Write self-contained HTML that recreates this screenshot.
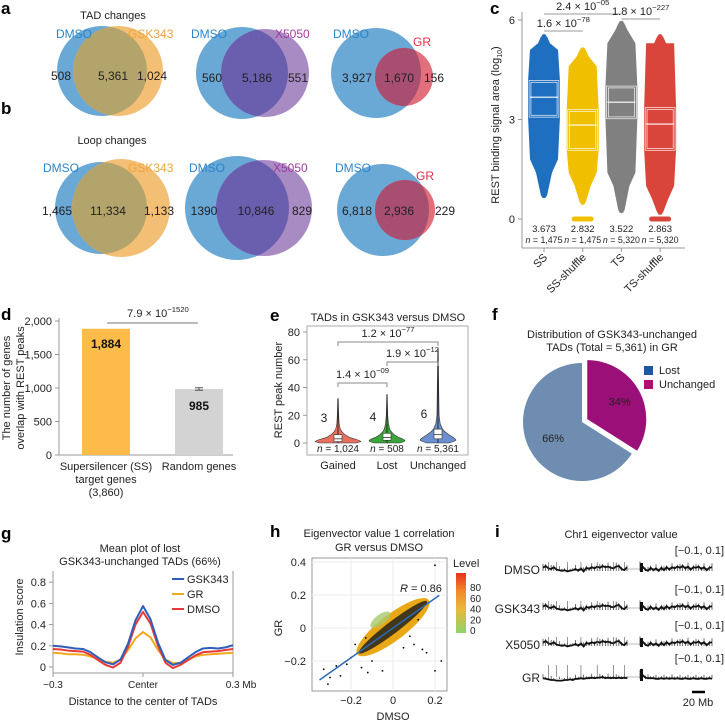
<!DOCTYPE html>
<html><head><meta charset="utf-8">
<style>
html,body{margin:0;padding:0;background:#fff;}
svg{display:block;font-family:"Liberation Sans",Arial,sans-serif;}
.t{font-size:11px;fill:#222;}
.s{font-size:10px;fill:#222;}
.v{font-size:12px;fill:#222;}
.pl{font-size:17px;font-weight:bold;fill:#000;}
</style></head>
<body>
<svg id="fig" width="725" height="723" viewBox="0 0 725 723" xmlns="http://www.w3.org/2000/svg">
<defs>
<clipPath id="ca1"><circle cx="102" cy="71" r="45"/></clipPath>
<clipPath id="ca2"><circle cx="242" cy="73" r="46"/></clipPath>
<clipPath id="ca3"><circle cx="376" cy="73" r="45"/></clipPath>
<clipPath id="cb1"><circle cx="101" cy="208" r="46"/></clipPath>
<clipPath id="cb2"><circle cx="237" cy="208" r="52"/></clipPath>
<clipPath id="cb3"><circle cx="383" cy="210" r="46"/></clipPath>
<linearGradient id="lvl" x1="0" y1="1" x2="0" y2="0"><stop offset="0" stop-color="#8fd36a"/><stop offset="0.4" stop-color="#e9b93a"/><stop offset="0.7" stop-color="#f08a2a"/><stop offset="1" stop-color="#e8321e"/></linearGradient>
</defs>

<!-- Panel a -->
<g>
<text class="pl" x="1" y="14">a</text>
<text class="t" x="113" y="19" text-anchor="middle" font-size="12">TAD changes</text>
<g>
<circle cx="102" cy="71" r="45" fill="#6aa8d6"/>
<circle cx="118" cy="71" r="45" fill="#f3bf74"/>
<circle cx="118" cy="71" r="45" fill="#b3a46c" clip-path="url(#ca1)"/>
<text class="v" x="56" y="38" style="fill:#2a85c9">DMSO</text>
<text class="v" x="128" y="38" style="fill:#f0a23a">GSK343</text>
<text class="v" x="61" y="80" text-anchor="middle">508</text>
<text class="v" x="113" y="80" text-anchor="middle">5,361</text>
<text class="v" x="152" y="80" text-anchor="middle">1,024</text>
</g>
<g>
<circle cx="242" cy="73" r="46" fill="#6aa8d6"/>
<circle cx="265" cy="73" r="44" fill="#a98bc4"/>
<circle cx="265" cy="73" r="44" fill="#6a5fae" clip-path="url(#ca2)"/>
<text class="v" x="191" y="38" style="fill:#2a85c9">DMSO</text>
<text class="v" x="275" y="38" style="fill:#a03ca0">X5050</text>
<text class="v" x="212" y="82" text-anchor="middle">560</text>
<text class="v" x="257" y="82" text-anchor="middle">5,186</text>
<text class="v" x="298" y="82" text-anchor="middle">551</text>
</g>
<g>
<circle cx="376" cy="73" r="45" fill="#6aa8d6"/>
<circle cx="404" cy="77" r="29" fill="#e2707c"/>
<circle cx="404" cy="77" r="29" fill="#a84e70" clip-path="url(#ca3)"/>
<text class="v" x="333" y="38" style="fill:#2a85c9">DMSO</text>
<text class="v" x="413" y="46" style="fill:#e0304a">GR</text>
<text class="v" x="357" y="82" text-anchor="middle">3,927</text>
<text class="v" x="399" y="82" text-anchor="middle">1,670</text>
<text class="v" x="434" y="82" text-anchor="middle">156</text>
</g>
</g>

<!-- Panel b -->
<g>
<text class="pl" x="1" y="114">b</text>
<text class="t" x="112" y="144" text-anchor="middle" font-size="12">Loop changes</text>
<g>
<circle cx="101" cy="208" r="46" fill="#6aa8d6"/>
<circle cx="121" cy="208" r="49" fill="#f3bf74"/>
<circle cx="121" cy="208" r="49" fill="#b3a46c" clip-path="url(#cb1)"/>
<text class="v" x="43" y="172" style="fill:#2a85c9">DMSO</text>
<text class="v" x="128" y="172" style="fill:#f0a23a">GSK343</text>
<text class="v" x="57" y="215" text-anchor="middle">1,465</text>
<text class="v" x="108" y="215" text-anchor="middle">11,334</text>
<text class="v" x="159" y="215" text-anchor="middle">1,133</text>
</g>
<g>
<circle cx="237" cy="208" r="52" fill="#6aa8d6"/>
<circle cx="264" cy="208" r="48" fill="#a98bc4"/>
<circle cx="264" cy="208" r="48" fill="#6a5fae" clip-path="url(#cb2)"/>
<text class="v" x="189" y="172" style="fill:#2a85c9">DMSO</text>
<text class="v" x="273" y="172" style="fill:#a03ca0">X5050</text>
<text class="v" x="204" y="215" text-anchor="middle">1390</text>
<text class="v" x="256" y="215" text-anchor="middle">10,846</text>
<text class="v" x="302" y="215" text-anchor="middle">829</text>
</g>
<g>
<circle cx="383" cy="210" r="46" fill="#6aa8d6"/>
<circle cx="405" cy="210" r="30" fill="#e2707c"/>
<circle cx="405" cy="210" r="30" fill="#a84e70" clip-path="url(#cb3)"/>
<text class="v" x="335" y="172" style="fill:#2a85c9">DMSO</text>
<text class="v" x="416" y="180" style="fill:#e0304a">GR</text>
<text class="v" x="357" y="215" text-anchor="middle">6,818</text>
<text class="v" x="399" y="215" text-anchor="middle">2,936</text>
<text class="v" x="445" y="215" text-anchor="middle">229</text>
</g>
</g>

<text class="pl" x="490" y="14">c</text>
<text class="pl" x="1" y="320">d</text>
<text class="pl" x="270" y="321">e</text>
<text class="pl" x="492" y="320">f</text>
<text class="pl" x="1" y="539">g</text>
<text class="pl" x="270" y="537">h</text>
<text class="pl" x="495" y="537">i</text>

<g id="gc"></g>
<g id="gd"></g>
<g id="ge"></g>
<g id="gf"></g>
<g id="gg"></g>
<g id="gh"></g>
<g id="gi"></g>
</svg>

<script>
// ===== Panel c data =====
const cCats = ["SS","SS-shuffle","TS","TS-shuffle"];
const cMedian = [3.673,2.832,3.522,2.863];
const cQ1 = [3.1,2.1,3.05,2.1];
const cQ3 = [4.15,3.27,3.98,3.33];
const cMin = [0.7,0.5,0.25,0.2];
const cMax = [5.5,5.1,5.9,5.5];
const cDenseLo = [1.8,1.4,1.4,1.0];
const cDenseHi = [5.1,4.6,5.3,5.3];
const cZeros = [0,1,0,1];
const cN = ["1,475","1,475","5,320","5,320"];
const cMedLabels = ["3.673","2.832","3.522","2.863"];
const cTicks = [0,3,6];
const cColors = ["#1f6fc0","#f0c000","#808080","#d9453a"];
// ===== Panel d data =====
const dCats = ["Supersilencer (SS)","Random genes"];
const dValues = [1884,985];
const dErr = [0,18];
const dLabels = ["1,884","985"];
const dTicks = [0,500,1000,1500,2000];
const dTickLabels = ["0","500","1,000","1,500","2,000"];
// ===== Panel e data =====
const eCats = ["Gained","Lost","Unchanged"];
const eMedians = [3,4,6];
const eQ1 = [1,2,3];
const eQ3 = [6,7,10];
const eMax = [32,35,68];
const eN = ["1,024","508","5,361"];
const eLevels = [0,1,2,3,4,6,8,10,14,20];
const eDensGained = [0.8,1.0,0.9,0.7,0.5,0.3,0.18,0.1,0.05,0.03];
const eDensLost = [0.7,0.95,1.0,0.85,0.65,0.4,0.25,0.15,0.08,0.04];
const eDensUnch = [0.6,0.85,1.0,0.95,0.85,0.6,0.4,0.25,0.12,0.06];
const eTicks = [0,20,40,60,80];
const eColors = ["#e8705f","#3aa63a","#6b8fd0"];
// ===== Panel f data =====
const fCats = ["Lost","Unchanged"];
const fValues = [66,34];
// ===== Panel g data =====
const gX = [-0.3,-0.275,-0.25,-0.225,-0.2,-0.175,-0.15,-0.125,-0.1,-0.075,-0.05,-0.025,0,0.025,0.05,0.075,0.1,0.125,0.15,0.175,0.2,0.225,0.25,0.275,0.3];
const gGSK = [0.20,0.195,0.185,0.175,0.17,0.14,0.09,0.045,0.025,0.07,0.22,0.44,0.575,0.45,0.23,0.065,0.02,0.04,0.09,0.14,0.175,0.18,0.175,0.185,0.205];
const gGR = [0.135,0.13,0.12,0.12,0.115,0.1,0.075,0.05,0.04,0.07,0.16,0.27,0.33,0.28,0.16,0.07,0.035,0.04,0.07,0.1,0.115,0.12,0.125,0.13,0.135];
const gDMSO = [0.17,0.165,0.155,0.15,0.145,0.115,0.065,0.02,-0.005,0.04,0.19,0.4,0.52,0.41,0.2,0.04,-0.01,0.02,0.065,0.11,0.14,0.145,0.15,0.16,0.17];
const gTicks = [0,0.2,0.4,0.6,0.8];
// ===== Panel h data =====
const hOutX = [0.2,-0.33,-0.3,0.23,0.2,-0.05,-0.12,0.14,0.16,-0.27,-0.25,-0.2,-0.15,-0.31,-0.1,0.1,-0.22,0.05,-0.18,-0.13,0.12,0.08];
const hOutY = [0.38,-0.25,-0.3,-0.2,-0.26,-0.26,-0.27,-0.13,-0.15,-0.23,-0.29,-0.18,-0.24,-0.34,-0.2,-0.1,-0.22,-0.12,-0.1,-0.06,0.05,-0.05];
const hFit = [-0.35,0.22];
const hSlope = 0.9;
const hIntercept = 0.0;
const hTicksX = [-0.2,0,0.2];
const hTicksY = [-0.2,0,0.2,0.4];
const hLevelTicks = [0,20,40,60,80];
// ===== Panel i data =====
const iTracks = ["DMSO","GSK343","X5050","GR"];
const iPatA = [0.02,0.05,0.01,0.0,0.03,-0.01,-0.02,-0.03,-0.02,-0.04,-0.03,-0.02,0.0,-0.03,0.01,-0.04,0.02,0.0,0.03,0.01,0.04,0.02,0.05,0.03,0.04,0.02,0.01,0.04,0.05,0.0,-0.02,0.03];
const iPatB = [0.06,0.04,-0.01,-0.03,0.02,-0.02,0.01,-0.03,0.02,-0.02,0.03,-0.01,0.03,0.01,0.04,0.02,0.05,0.01,0.04,-0.01,0.03,0.02,0.04,0.0,0.03,-0.02,0.02,0.03];
const iPatGRA = [-0.02,-0.03,-0.04,-0.05,-0.05,-0.06,-0.06,-0.06,-0.05,-0.05,-0.04,-0.05,-0.03,-0.03,-0.02,-0.03,-0.02,-0.02,-0.01,-0.02,-0.01,-0.01,0.0,-0.02,-0.01,-0.02,-0.01,-0.02,-0.01,-0.02,-0.01,-0.02];
const iPatGRB = [0.05,0.03,-0.01,-0.02,-0.02,-0.02,-0.03,-0.03,-0.02,-0.03,-0.02,-0.03,-0.02,-0.03,-0.02,-0.03,-0.03,-0.02,-0.03,-0.03,-0.02,-0.03,-0.03,-0.02,-0.03,-0.03,-0.02,-0.03];
const iSpikes = [2,5,9,14,20,26,30];

const NS="http://www.w3.org/2000/svg";
function mk(parent,tag,attrs,text){const e=document.createElementNS(NS,tag);for(const k in attrs)e.setAttribute(k,attrs[k]);if(text!==undefined)e.textContent=text;parent.appendChild(e);return e;}
function sup(parent,x,y,base,exp,anchor,size){const t=mk(parent,"text",{x:x,y:y,"text-anchor":anchor||"middle","font-size":size||11,fill:"#222"});const a=document.createElementNS(NS,"tspan");a.textContent=base;t.appendChild(a);const b=document.createElementNS(NS,"tspan");b.setAttribute("dy","-5");b.setAttribute("font-size",(size||11)*0.7);b.textContent=exp;t.appendChild(b);return t;}

// ===== Panel c =====
(function(){
const g=document.getElementById("gc");
const yC=v=>219-v*(199/6);
const xC=i=>544+i*38.7;
let e;
e=mk(g,"line",{x1:522,y1:12,x2:522,y2:248,stroke:"#999","stroke-width":1});

e=mk(g,"line",{x1:522,y1:248,x2:685,y2:248,stroke:"#999","stroke-width":1});

cTicks.forEach(t=>{
 e=mk(g,"line",{x1:518,y1:yC(t),x2:522,y2:yC(t),stroke:"#999"});
 
 e=mk(g,"text",{x:515,y:yC(t)+4,"text-anchor":"end",class:"t"},String(t));
 
});
e=mk(g,"text",{transform:"translate(499,125) rotate(-90)","text-anchor":"middle",class:"t"},"");

e.innerHTML='REST binding signal area (log<tspan font-size="7" dy="3">10</tspan><tspan dy="-3">)</tspan>';
cCats.forEach((c,i)=>{
 const x=xC(i),col=cColors[i];
 const pts=[];
 const prof=[[cMin[i],3],[cDenseLo[i]-0.4,8],[cDenseLo[i],14],[cQ1[i],16],[cQ3[i],16],[cDenseHi[i],14],[cMax[i]-0.2,6],[cMax[i],3]];
 prof.forEach(p=>pts.push([x-p[1],yC(p[0])]));
 prof.slice().reverse().forEach(p=>pts.push([x+p[1],yC(p[0])]));
 e=mk(g,"polygon",{points:pts.map(p=>p.join(",")).join(" "),fill:col});
 
 [cMin[i],cMax[i]].forEach(v=>{
  e=mk(g,"circle",{cx:x,cy:yC(v),r:2.5,fill:col});
  
 });
 if(cZeros[i]){
  e=mk(g,"rect",{x:x-11,y:yC(0)-2.5,width:22,height:5,rx:2.5,fill:col});
  
 }
 e=mk(g,"rect",{x:x-14,y:yC(cQ3[i]),width:28,height:yC(cQ1[i])-yC(cQ3[i]),fill:"none",stroke:"#fff","stroke-width":2.5});
 
 e=mk(g,"rect",{x:x-14,y:yC(cQ3[i]),width:28,height:yC(cQ1[i])-yC(cQ3[i]),fill:"none",stroke:col,"stroke-width":1.2});
 
 e=mk(g,"line",{x1:x-14,x2:x+14,y1:yC(cMedian[i]),y2:yC(cMedian[i]),stroke:"#fff","stroke-width":1.2});
 
 e=mk(g,"text",{x:x,y:232,"text-anchor":"middle","font-size":9.5,fill:"#222"},cMedLabels[i]);
 
 e=mk(g,"text",{x:x,y:243,"text-anchor":"middle","font-size":8.8,fill:"#222"},"");
 
 e.innerHTML='<tspan font-style="italic">n</tspan> = '+cN[i];
 e=mk(g,"line",{x1:x,x2:x,y1:248,y2:252,stroke:"#999"});
 
 e=mk(g,"text",{transform:`translate(${x+4},258) rotate(-45)`,"text-anchor":"end",class:"t"},c);
 
});
const br=[[0,1,31,"1.6 × 10","−78"],[0,2,14,"2.4 × 10","−05"],[2,3,19,"1.8 × 10","−227"]];
br.forEach(b=>{
 e=mk(g,"line",{x1:xC(b[0]),x2:xC(b[1]),y1:b[2],y2:b[2],stroke:"#999"});
 
 e=sup(g,(xC(b[0])+xC(b[1]))/2,b[2]-4,b[3],b[4]);
 
});
})();

// ===== Panel d =====
(function(){
const g=document.getElementById("gd");
const yD=v=>455-v*(134/2000);
const xD=[106,199];
let e;
e=mk(g,"line",{x1:59,y1:318,x2:59,y2:455,stroke:"#999"});

e=mk(g,"line",{x1:59,y1:455,x2:233,y2:455,stroke:"#999"});

dTicks.forEach((t,i)=>{
 e=mk(g,"line",{x1:55,x2:59,y1:yD(t),y2:yD(t),stroke:"#999"});
 
 e=mk(g,"text",{x:52,y:yD(t)+4,"text-anchor":"end",class:"t"},dTickLabels[i]);
 
});
const cols=["#fdbb4a","#d3d3d3"];
dValues.forEach((v,i)=>{
 e=mk(g,"rect",{x:xD[i]-24,y:yD(v),width:48,height:455-yD(v),fill:cols[i]});
 
 e=mk(g,"text",{x:xD[i],y:yD(v)+(i?21:19),"text-anchor":"middle","font-size":12,"font-weight":"bold",fill:"#111"},dLabels[i]);
 
 if(dErr[i]){
  e=mk(g,"path",{d:`M${xD[i]-4},${yD(v+dErr[i])}H${xD[i]+4}M${xD[i]},${yD(v+dErr[i])}V${yD(v-dErr[i])}M${xD[i]-4},${yD(v-dErr[i])}H${xD[i]+4}`,stroke:"#555",fill:"none"});
  
 }
});
e=mk(g,"text",{x:106,y:470,"text-anchor":"middle",class:"t"},dCats[0]);

e=mk(g,"text",{x:106,y:483,"text-anchor":"middle",class:"t"},"target genes");

e=mk(g,"text",{x:106,y:496,"text-anchor":"middle",class:"t"},"(3,860)");

e=mk(g,"text",{x:199,y:470,"text-anchor":"middle",class:"t"},dCats[1]);

e=mk(g,"line",{x1:107,x2:198,y1:323,y2:323,stroke:"#777"});

e=sup(g,158,317,"7.9 × 10","−1520");

e=mk(g,"text",{transform:"translate(10,388) rotate(-90)","text-anchor":"middle",class:"t","font-size":12},"The number of genes");

e=mk(g,"text",{transform:"translate(24,388) rotate(-90)","text-anchor":"middle",class:"t","font-size":12},"overlap with REST peaks");

})();

// ===== Panel e =====
(function(){
const g=document.getElementById("ge");
const yE=v=>443-v*(111/80);
const xE=[338,387,438];
const hw=[23,18,18];
const dens=[eDensGained,eDensLost,eDensUnch];
let e;
e=mk(g,"rect",{x:307,y:326,width:161,height:129,fill:"none",stroke:"#aaa"});

e=mk(g,"text",{x:388,y:321,"text-anchor":"middle",class:"t"},"TADs in GSK343 versus DMSO");

eTicks.forEach(t=>{
 e=mk(g,"line",{x1:303,x2:307,y1:yE(t),y2:yE(t),stroke:"#999"});
 
 e=mk(g,"text",{x:300,y:yE(t)+4,"text-anchor":"end",class:"t"},String(t));
 
});
e=mk(g,"text",{transform:"translate(282,390) rotate(-90)","text-anchor":"middle",class:"t"},"REST peak number");

eCats.forEach((c,i)=>{
 const x=xE[i];
 const lv=eLevels.concat([eMax[i]]);
 const dv=dens[i].concat([0.01]);
 let L=[],R=[];
 lv.forEach((v,k)=>{L.push([x-dv[k]*hw[i],yE(v)]);R.push([x+dv[k]*hw[i],yE(v)]);});
 const pts=L.concat(R.reverse());
 e=mk(g,"polygon",{points:pts.map(p=>p.join(",")).join(" "),fill:eColors[i],stroke:"#333","stroke-width":0.6,"stroke-linejoin":"round"});
 
 e=mk(g,"line",{x1:x,x2:x,y1:yE(0),y2:yE(eMax[i]),stroke:"#111","stroke-width":0.8});
 
 e=mk(g,"rect",{x:x-4,y:yE(eQ3[i]),width:8,height:yE(eQ1[i])-yE(eQ3[i]),fill:"#fff",stroke:"#333","stroke-width":0.6});
 
 e=mk(g,"line",{x1:x-4,x2:x+4,y1:yE(eMedians[i]),y2:yE(eMedians[i]),stroke:"#333","stroke-width":0.8});
 
 e=mk(g,"text",{x:x-14,y:yE(eMedians[i]+12),"text-anchor":"middle",class:"v"},String(eMedians[i]));
 
 e=mk(g,"text",{x:x,y:452,"text-anchor":"middle",class:"s"},"");
 
 e.innerHTML='<tspan font-style="italic">n</tspan> = '+eN[i];
 e=mk(g,"text",{x:x,y:469,"text-anchor":"middle",class:"t"},c);
 
});
const br=[[0,2,342,"1.2 × 10","−77"],[1,2,362,"1.9 × 10","−12"],[0,1,383,"1.4 × 10","−09"]];
br.forEach(b=>{
 const x1=xE[b[0]],x2=xE[b[1]];
 e=mk(g,"path",{d:`M${x1},${b[2]+4}V${b[2]}H${x2}V${b[2]+4}`,stroke:"#888",fill:"none"});
 
 e=sup(g,(x1+x2)/2,b[2]-5,b[3],b[4]);
 
});
})();

// ===== Panel f =====
(function(){
const g=document.getElementById("gf");
const cx=582,cy=422,r=59;
const tot=fValues.reduce((a,b)=>a+b,0);
const cols=["#6f8db0","#9b0f78"];
const legCols=["#1b5a9a","#b0106f"];
let e;
e=mk(g,"text",{x:612,y:338,"text-anchor":"middle",class:"t"},"Distribution of GSK343-unchanged");

e=mk(g,"text",{x:612,y:351,"text-anchor":"middle",class:"t"},"TADs (Total = 5,361) in GR");

const order=[1,0];
let a0=0;
order.forEach(i=>{
 const a1=a0+fValues[i]/tot*2*Math.PI;
 const mid=(a0+a1)/2;
 const off=i===1?6:0;
 const ox=cx+off*Math.sin(mid),oy=cy-off*Math.cos(mid);
 const p0=[ox+r*Math.sin(a0),oy-r*Math.cos(a0)],p1=[ox+r*Math.sin(a1),oy-r*Math.cos(a1)];
 const large=(a1-a0)>Math.PI?1:0;
 e=mk(g,"path",{d:`M${ox},${oy}L${p0[0]},${p0[1]}A${r},${r} 0 ${large} 1 ${p1[0]},${p1[1]}Z`,fill:cols[i]});
 
 const lr=i===1?37:33;
 e=mk(g,"text",{x:ox+lr*Math.sin(mid),y:oy-lr*Math.cos(mid)+4,"text-anchor":"middle",class:"t"},fValues[i]+"%");
 
 a0=a1;
});
fCats.forEach((c,i)=>{
 e=mk(g,"rect",{x:644,y:366+i*14,width:9,height:9,fill:legCols[i]});
 
 e=mk(g,"text",{x:659,y:374+i*14,class:"t"},c);
 
});
})();

// ===== Panel g =====
(function(){
const g=document.getElementById("gg");
const xG=x=>53+(x+0.3)/0.6*180;
const yG=v=>667-v*106;
let e;
e=mk(g,"text",{x:140,y:552,"text-anchor":"middle",class:"t"},"Mean plot of lost");

e=mk(g,"text",{x:140,y:565,"text-anchor":"middle",class:"t"},"GSK343-unchanged TADs (66%)");

e=mk(g,"path",{d:"M53,571V673H233V571",fill:"none",stroke:"#999"});

gTicks.forEach(t=>{
 e=mk(g,"line",{x1:49,x2:53,y1:yG(t),y2:yG(t),stroke:"#999"});
 
 e=mk(g,"text",{x:46,y:yG(t)+4,"text-anchor":"end",class:"t"},String(t));
 
});
[[-0.3,"−0.3"],[0,"Center"],[0.3,"0.3 Mb"]].forEach((t,k)=>{
 e=mk(g,"line",{x1:xG(t[0]),x2:xG(t[0]),y1:673,y2:677,stroke:"#999"});
 
 e=mk(g,"text",{x:xG(t[0])+(k===2?8:0),y:688,"text-anchor":"middle",class:"s"},t[1]);
 
});
e=mk(g,"text",{x:143,y:705,"text-anchor":"middle",class:"t"},"Distance to the center of TADs");

e=mk(g,"text",{transform:"translate(23,617) rotate(-90)","text-anchor":"middle",class:"t"},"Insulation score");

const series=[["GR",gGR,"#f2a81d"],["DMSO",gDMSO,"#e83a3a"],["GSK343",gGSK,"#2f5fb8"]];
series.forEach(s=>{
 e=mk(g,"polyline",{points:gX.map((x,k)=>xG(x)+","+yG(s[1][k])).join(" "),fill:"none",stroke:s[2],"stroke-width":2,"stroke-linejoin":"round"});
 
});
[["GSK343","#2f5fb8"],["GR","#f2a81d"],["DMSO","#e83a3a"]].forEach((s,k)=>{
 e=mk(g,"line",{x1:172,x2:184,y1:579+k*15,y2:579+k*15,stroke:s[1],"stroke-width":2});
 
 e=mk(g,"text",{x:187,y:583+k*15,class:"t"},s[0]);
 
});
})();

// ===== Panel h =====
(function(){
const g=document.getElementById("gh");
const xH=x=>393+x*210;
const yH=v=>628-v*165;
let e;
e=mk(g,"text",{x:379,y:537,"text-anchor":"middle",class:"t"},"Eigenvector value 1 correlation");

e=mk(g,"text",{x:379,y:551,"text-anchor":"middle",class:"t"},"GR versus DMSO");

e=mk(g,"rect",{x:312,y:558,width:135,height:133,fill:"#fff",stroke:"#999"});

hTicksY.forEach(t=>{
 e=mk(g,"line",{x1:312,x2:447,y1:yH(t),y2:yH(t),stroke:"#ebebeb"});
 
 e=mk(g,"text",{x:306,y:yH(t)+4,"text-anchor":"end",class:"t"},t<0?"−"+Math.abs(t):String(t));
 
});
hTicksX.forEach(t=>{
 e=mk(g,"line",{x1:xH(t),x2:xH(t),y1:558,y2:691,stroke:"#ebebeb"});
 
 e=mk(g,"text",{x:xH(t),y:704,"text-anchor":"middle",class:"t"},t<0?"−"+Math.abs(t):String(t));
 
});
e=mk(g,"text",{x:393,y:720,"text-anchor":"middle",class:"t"},"DMSO");

e=mk(g,"text",{transform:"translate(282,628) rotate(-90)","text-anchor":"middle",class:"t"},"GR");

const cx=xH(0),cy=yH(0.005);
const ang=Math.atan2(yH(0.17)-yH(-0.16),xH(0.17)-xH(-0.17))*180/Math.PI;
e=mk(g,"ellipse",{cx:cx,cy:cy,rx:Math.hypot(xH(0.17)-xH(-0.17),yH(0.17)-yH(-0.16))/2,ry:13,fill:"#eaa816",transform:`rotate(${ang},${cx},${cy})`});

e=mk(g,"ellipse",{cx:xH(-0.06),cy:yH(0.05),rx:12,ry:5,fill:"#a7c96a",opacity:0.8,transform:`rotate(${ang},${xH(-0.06)},${yH(0.05)})`});

e=mk(g,"ellipse",{cx:cx,cy:cy,rx:Math.hypot(xH(0.16)-xH(-0.16),yH(0.16)-yH(-0.16))/2,ry:6,fill:"#1a1a1a",opacity:0.8,transform:`rotate(${ang},${cx},${cy})`});

hOutX.forEach((x,k)=>{
 e=mk(g,"circle",{cx:xH(x),cy:yH(hOutY[k]),r:0.9,fill:"#000"});
 
});
e=mk(g,"line",{x1:xH(hFit[0]),y1:yH(hIntercept+hSlope*hFit[0]),x2:xH(hFit[1]),y2:yH(hIntercept+hSlope*hFit[1]),stroke:"#2a6ab8","stroke-width":1.5});

e=mk(g,"text",{x:400,y:592,class:"t"},"");

e.innerHTML='<tspan font-style="italic">R</tspan> = 0.86';
e=mk(g,"text",{x:453,y:567,class:"t"},"Level");

e=mk(g,"rect",{x:456,y:573,width:10,height:60,fill:"url(#lvl)"});

hLevelTicks.forEach(t=>{
 const y=631-t*(43/80);
 e=mk(g,"text",{x:470,y:y+3,class:"s"},String(t));
 
});
})();

// ===== Panel i =====
(function(){
const g=document.getElementById("gi");
let e;
e=mk(g,"text",{x:621,y:538,"text-anchor":"middle",class:"t"},"Chr1 eigenvector value");

const base=[569,608,644,677];
const segA=[543,627],segB=[640,712];
iTracks.forEach((t,k)=>{
 const y0=base[k];
 const pa=k===3?iPatGRA:iPatA, pb=k===3?iPatGRB:iPatB;
 e=mk(g,"text",{x:540,y:y0+5,"text-anchor":"end",class:"v"},t);
 
 e=mk(g,"text",{x:724,y:y0-15,"text-anchor":"end",class:"t"},"[−0.1, 0.1]");
 
 e=mk(g,"line",{x1:segA[1],x2:segB[0],y1:y0,y2:y0,stroke:"#bbb"});
 
 [[segA,pa],[segB,pb]].forEach(sp=>{
  const s=sp[0],p=sp[1];
  const step=(s[1]-s[0])/(p.length-1);
  let d="";
  p.forEach((v,j)=>{d+=(j?"L":"M")+(s[0]+j*step)+","+(y0-v*60);});
  e=mk(g,"path",{d:d,fill:"none",stroke:"#111","stroke-width":1.8});
  
  let sd="";
  p.forEach((v,j)=>{sd+="M"+(s[0]+j*step)+","+(y0+2)+"V"+(y0-v*60-(j%3===0?4:2));});
  e=mk(g,"path",{d:sd,stroke:"#111","stroke-width":0.6});
  
 });
 iSpikes.forEach(j=>{
  const x=segA[0]+j*(segA[1]-segA[0])/(pa.length-1);
  e=mk(g,"line",{x1:x,x2:x,y1:y0,y2:y0-(k===3?12:7),stroke:"#555","stroke-width":0.6});
  
 });
 e=mk(g,"rect",{x:segB[0],y:y0-(k===3?8:6),width:3,height:(k===3?12:9),fill:"#111"});
 
});
e=mk(g,"line",{x1:692,x2:705,y1:692,y2:692,stroke:"#000","stroke-width":2.5});

e=mk(g,"text",{x:698,y:706,"text-anchor":"middle",class:"t"},"20 Mb");

})();
</script>
</body></html>
